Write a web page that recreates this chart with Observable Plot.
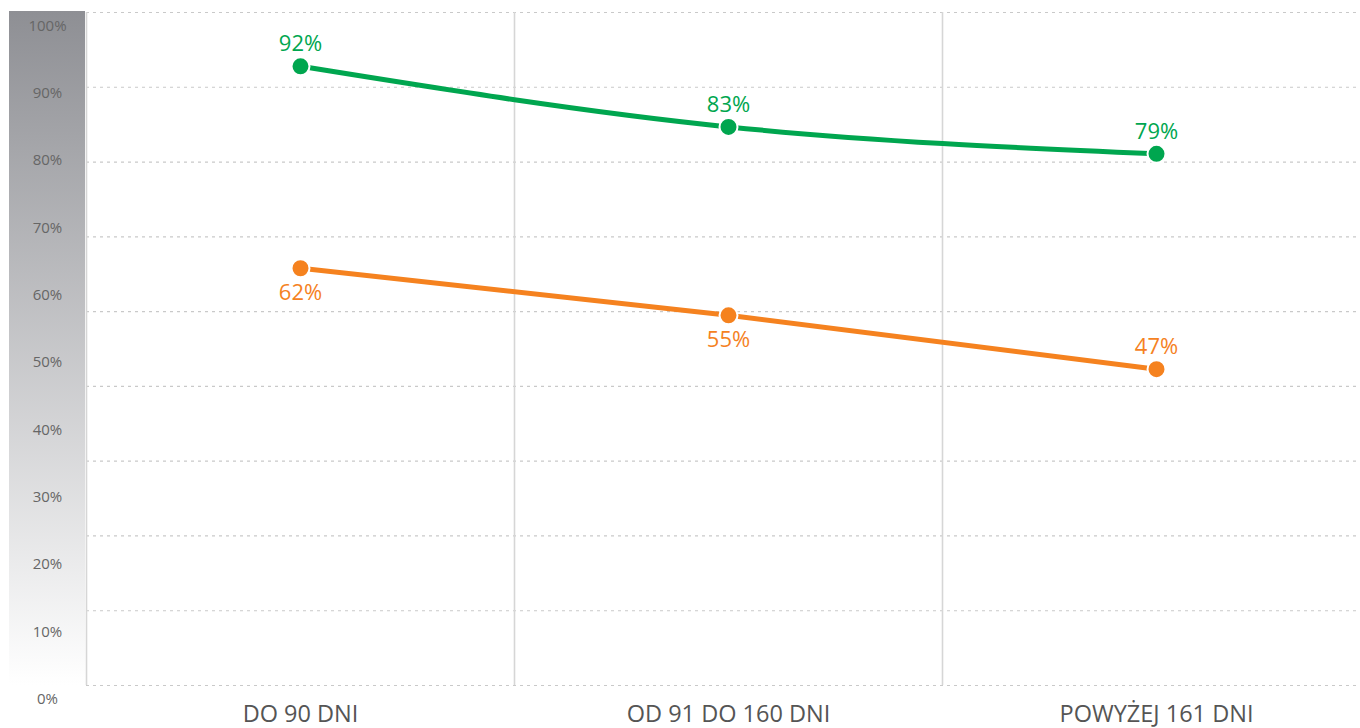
<!DOCTYPE html>
<html><head><meta charset="utf-8">
<script src="https://cdn.jsdelivr.net/npm/d3@7"></script>
<script src="https://cdn.jsdelivr.net/npm/@observablehq/plot@0.6"></script>
<style>
  html, body { margin: 0; padding: 0; background: #fff; }
  #chart svg { display: block; font-family: "Open Sans", sans-serif; }
</style>
</head><body><div id="chart"></div>
<script>
const categories = ["DO 90 DNI", "OD 91 DO 160 DNI", "POWYŻEJ 161 DNI"];
const greenValues = [92, 83, 79];
const orangeValues = [62, 55, 47];
const yTickValues = [0, 10, 20, 30, 40, 50, 60, 70, 80, 90, 100];
const gridValues = [0, 11.11, 22.22, 33.33, 44.44, 55.56, 66.67, 77.78, 88.89, 100];
const separators = [-0.5, 0.5, 1.5];

const GREEN = "#00a64f";
const ORANGE = "#f5821f";

const green = greenValues.map((v, i) => ({i, v}));
const orange = orangeValues.map((v, i) => ({i, v}));

const bandMark = (index, {y}, values, {marginLeft}) => {
  const g = d3.create("svg:g");
  const grad = g.append("defs").append("linearGradient")
    .attr("id", "bandGrad").attr("x1", 0).attr("y1", 0).attr("x2", 0).attr("y2", 1);
  grad.append("stop").attr("offset", "0%").attr("stop-color", "#8e8f94");
  grad.append("stop").attr("offset", "100%").attr("stop-color", "#ffffff");
  g.append("rect")
    .attr("x", 9).attr("width", marginLeft - 10)
    .attr("y", y(100) - 1).attr("height", y(0) - y(100) + 1)
    .attr("fill", "url(#bandGrad)");
  return g.node();
};

const chart = Plot.plot({
  width: 1360,
  height: 728,
  marginTop: 12,
  marginBottom: 43,
  marginLeft: 86,
  marginRight: 0,
  x: {domain: [-0.5, 2.5], range: [86, 1370]},
  y: {domain: [0, 100]},
  marks: [
    bandMark,
    Plot.ruleY(gridValues, {stroke: "#c9c9c9", strokeWidth: 1.2, strokeDasharray: "3,4"}),
    Plot.ruleX(separators, {y1: 0, y2: 100, stroke: "#d6d6d6", strokeWidth: 1.6}),
    Plot.line(green, {x: "i", y: "v", stroke: GREEN, strokeWidth: 5, curve: "monotone-x"}),
    Plot.line(orange, {x: "i", y: "v", stroke: ORANGE, strokeWidth: 5, curve: "monotone-x"}),
    Plot.dot(green, {x: "i", y: "v", r: 9, fill: GREEN, stroke: "#fff", strokeWidth: 2}),
    Plot.dot(orange, {x: "i", y: "v", r: 9, fill: ORANGE, stroke: "#fff", strokeWidth: 2}),
    Plot.text(green, {x: "i", y: "v", text: d => d.v + "%", dy: -22, fill: GREEN, fontSize: 22}),
    Plot.text(orange, {filter: d => d.i < 2, x: "i", y: "v", text: d => d.v + "%", dy: 25, fill: ORANGE, fontSize: 22}),
    Plot.text(orange, {filter: d => d.i >= 2, x: "i", y: "v", text: d => d.v + "%", dy: -22, fill: ORANGE, fontSize: 22}),
    Plot.axisY({ticks: yTickValues, tickSize: 0, tickPadding: 39, textAnchor: "middle", dy: 13.5,
      tickFormat: d => d + "%", fontSize: 15, fill: "#666", label: null}),
    Plot.axisX({ticks: [0, 1, 2], tickSize: 0, tickPadding: 20, tickFormat: i => categories[i],
      fontSize: 23.5, fill: "#555", label: null})
  ]
});
document.getElementById("chart").appendChild(chart);
</script>
</body></html>
